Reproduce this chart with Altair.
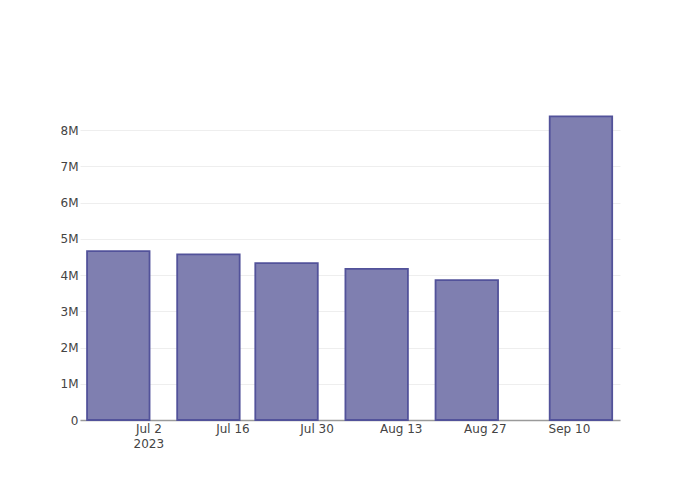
import altair as alt
import pandas as pd

dates = ["2023-06-27", "2023-07-12", "2023-07-25", "2023-08-09", "2023-08-24", "2023-09-12"]
values = [4660000, 4570000, 4330000, 4170000, 3860000, 8380000]
tick_dates = [(2023, 7, 2), (2023, 7, 16), (2023, 7, 30), (2023, 8, 13), (2023, 8, 27), (2023, 9, 10)]

df = pd.DataFrame({"date": dates, "value": values})

half_width_ms = 5.2 * 86400000

tick_values = [alt.DateTime(year=y, month=m, date=d, utc=True) for (y, m, d) in tick_dates]

x_scale = alt.Scale(
    type="utc",
    domain=[alt.DateTime(year=2023, month=6, date=20, hours=15, utc=True),
            alt.DateTime(year=2023, month=9, date=18, hours=12, utc=True)],
)

FONT = "DejaVu Sans"

chart = alt.Chart(df).transform_calculate(
    x0=f"toDate(datum.date) - {half_width_ms}",
    x1=f"toDate(datum.date) + {half_width_ms}",
    base="0",
).mark_rect(
    fill="#7f7fb0",
    stroke="#52529a",
    strokeWidth=1.8,
    strokeOpacity=1,
    fillOpacity=1,
).encode(
    x=alt.X("x0:T", scale=x_scale, title=None,
            axis=alt.Axis(values=tick_values, grid=False, ticks=False,
                          domain=True, domainColor="#9a9a9a", domainWidth=1.6,
                          labelExpr="utcFormat(datum.value, '%b %-d') == 'Jul 2' ? ['Jul 2', '2023'] : utcFormat(datum.value, '%b %-d')",
                          labelFont=FONT, labelFontSize=12, labelColor="#444",
                          labelPadding=3, labelLineHeight=15.5, labelBaseline="top",
                          labelFlush=False, labelOverlap=False)),
    x2="x1:T",
    y=alt.Y("value:Q", scale=alt.Scale(domain=[0, 8830000], nice=False, zero=True), title=None,
            axis=alt.Axis(values=[0, 1000000, 2000000, 3000000, 4000000, 5000000, 6000000, 7000000, 8000000],
                          grid=True, gridColor="#eeeeee", gridWidth=1,
                          labelExpr="datum.value == 0 ? '0' : format(datum.value / 1000000, 'd') + 'M'",
                          ticks=False, domain=False,
                          labelFont=FONT, labelFontSize=12, labelColor="#444",
                          labelPadding=2)),
    y2="base:Q",
).properties(
    width=540, height=320,
    background="white",
    autosize=alt.AutoSizeParams(type="none"),
    padding={"left": 80, "top": 100, "right": 80, "bottom": 80},
).configure_view(strokeWidth=0, stroke=None)

chart.save("out.html", embed_options={"renderer": "svg", "actions": False})
